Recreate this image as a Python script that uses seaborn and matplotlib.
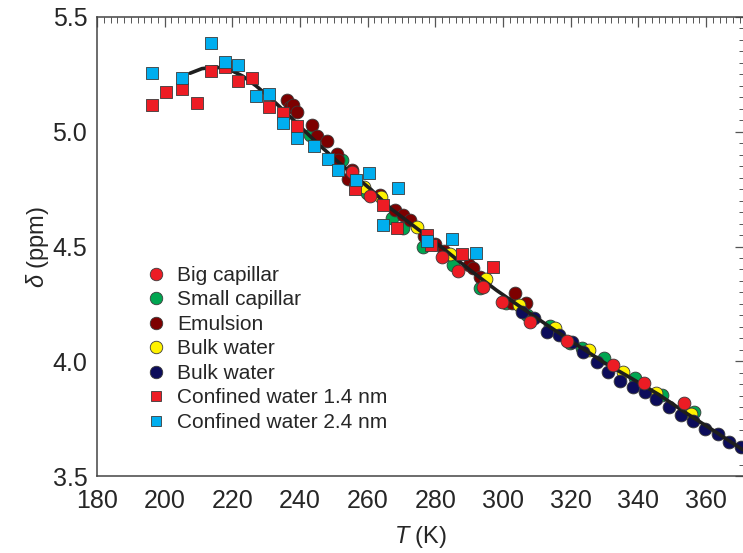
import numpy as np
import pandas as pd
import matplotlib
matplotlib.use("Agg")
import matplotlib.pyplot as plt
import seaborn as sns
from matplotlib.ticker import MultipleLocator

# ---------------- data ----------------
big_T = [255.3, 260.7, 281.9, 286.8, 294.2, 299.6, 308.0, 318.8, 332.5, 341.7, 353.4]
big_d = [4.826, 4.720, 4.453, 4.395, 4.325, 4.259, 4.172, 4.090, 3.984, 3.907, 3.817]

small_T = [243.0, 252.3, 259.7, 267.1, 270.5, 276.4, 285.3, 293.2, 300.9, 307.0, 313.9,
           319.8, 323.3, 329.7, 338.9, 347.1, 356.4]
small_d = [4.986, 4.877, 4.732, 4.623, 4.579, 4.499, 4.419, 4.318, 4.252, 4.202, 4.154,
           4.078, 4.056, 4.013, 3.926, 3.853, 3.780]

emul_T = [236.1, 237.0, 238.0, 239.0, 243.5, 244.9, 247.9, 250.9, 251.3, 254.1, 255.5,
          263.7, 268.1, 270.5, 272.5, 276.5, 279.9, 282.4, 289.8, 291.2, 293.2, 302.6,
          303.6, 306.8]
emul_d = [5.138, 5.109, 5.117, 5.087, 5.029, 4.981, 4.961, 4.903, 4.877, 4.793, 4.833,
          4.724, 4.659, 4.637, 4.615, 4.546, 4.511, 4.482, 4.419, 4.405, 4.368, 4.252,
          4.296, 4.252]

bulk1_T = [259.0, 263.9, 274.5, 284.3, 295.0, 304.8, 315.4, 325.5, 335.5, 345.1, 355.5]
bulk1_d = [4.761, 4.716, 4.586, 4.467, 4.357, 4.245, 4.144, 4.049, 3.952, 3.863, 3.770]

bulk2_T = [305.5, 309.0, 312.9, 316.4, 320.3, 323.7, 327.7, 331.1, 334.7, 338.4, 341.9,
           345.3, 349.0, 352.5, 356.0, 359.8, 363.4, 366.8, 370.3]
bulk2_d = [4.216, 4.187, 4.129, 4.114, 4.085, 4.042, 3.998, 3.954, 3.914, 3.889, 3.867,
           3.834, 3.802, 3.766, 3.740, 3.703, 3.683, 3.649, 3.625]

conf14_T = [196.3, 200.4, 205.0, 209.6, 213.6, 217.7, 221.8, 225.8, 230.9, 235.1, 239.0,
            256.3, 264.5, 268.6, 277.6, 278.6, 287.8, 297.1]
conf14_d = [5.117, 5.172, 5.188, 5.124, 5.266, 5.283, 5.221, 5.234, 5.109, 5.083, 5.024,
            4.749, 4.681, 4.579, 4.550, 4.507, 4.467, 4.409]

conf24_T = [196.3, 205.0, 213.6, 217.7, 221.8, 226.9, 230.9, 235.1, 239.0, 244.2, 248.2,
            251.3, 256.5, 260.5, 264.5, 269.1, 277.6, 284.8, 292.0]
conf24_d = [5.256, 5.233, 5.385, 5.303, 5.291, 5.154, 5.163, 5.037, 4.971, 4.938, 4.880,
            4.833, 4.790, 4.822, 4.594, 4.754, 4.525, 4.531, 4.473]

fit_T = [207.5, 211, 215, 219, 223, 227, 231, 235, 239, 243, 247, 251, 255, 261, 267,
         274, 282, 290, 298, 306, 314, 322, 330, 338, 346, 354, 362, 371]
fit_d = [5.255, 5.275, 5.282, 5.272, 5.243, 5.200, 5.150, 5.095, 5.038, 4.980, 4.925,
         4.872, 4.822, 4.748, 4.663, 4.585, 4.495, 4.400, 4.310, 4.228, 4.148, 4.070,
         3.993, 3.925, 3.855, 3.775, 3.700, 3.613]

labels = ["Big capillar", "Small capillar", "Emulsion", "Bulk water", "Bulk water",
          "Confined water 1.4 nm", "Confined water 2.4 nm"]
x_ticks = [180, 200, 220, 240, 260, 280, 300, 320, 340, 360]
y_ticks = [3.5, 4.0, 4.5, 5.0, 5.5]

# ---------------- styling ----------------
sns.set_theme(style="white")
plt.rcParams["font.family"] = ["Liberation Sans", "DejaVu Sans"]
plt.rcParams["mathtext.fontset"] = "custom"
plt.rcParams["mathtext.it"] = "Liberation Sans:italic"
plt.rcParams["mathtext.rm"] = "Liberation Sans"

fig = plt.figure(figsize=(7.43, 5.53), dpi=100)
ax = fig.add_axes([97 / 743, 77 / 553, 648 / 743, 459 / 553])

# fit curve
sns.lineplot(x=fit_T, y=fit_d, ax=ax, color="#1e1e1e", lw=2.6, sort=False,
             estimator=None, zorder=2, legend=False)

series = [
    (big_T, big_d, "o", "#ec1c24", labels[0], 4),
    (small_T, small_d, "o", "#00a651", labels[1], 3),
    (emul_T, emul_d, "o", "#7d0000", labels[2], 3),
    (bulk1_T, bulk1_d, "o", "#fff200", labels[3], 3),
    (bulk2_T, bulk2_d, "o", "#0c0c5a", labels[4], 3),
    (conf14_T, conf14_d, "s", "#ed1c24", labels[5], 4),
    (conf24_T, conf24_d, "s", "#00aeef", labels[6], 4),
]
handles = []
for T, d, m, c, lab, z in series:
    df = pd.DataFrame({"T": T, "d": d})
    s = 85 if m == "o" else 70
    sns.scatterplot(data=df, x="T", y="d", ax=ax, marker=m, color=c, s=s,
                    edgecolor="#3a3a3a", linewidth=0.6, zorder=z, legend=False)
    h = plt.Line2D([], [], marker=m, ls="none", markerfacecolor=c,
                   markeredgecolor="#3a3a3a", markeredgewidth=0.6,
                   markersize=9 if m == "o" else 7.5)
    handles.append(h)

# black fit line drawn on top of the circles, as in the reference
ax.lines[0].set_zorder(3.5)

ax.set_xlim(180, 371.5)
ax.set_ylim(3.5, 5.5)
ax.set_xticks(x_ticks)
ax.set_yticks(y_ticks)
ax.set_yticklabels([f"{v:.1f}" for v in y_ticks])
ax.xaxis.set_minor_locator(MultipleLocator(2))
ax.yaxis.set_minor_locator(MultipleLocator(0.05))
ax.tick_params(which="both", direction="in", top=True, right=True, color="#555555")
ax.tick_params(which="major", length=7, width=0.9, labelsize=18)
ax.tick_params(which="minor", length=4, width=0.7)
ax.tick_params(axis="x", which="major", pad=9)
ax.tick_params(axis="y", which="major", pad=7)
for sp in ax.spines.values():
    sp.set_color("#444444")
    sp.set_linewidth(1.1)

ax.set_xlabel(r"$T$ (K)", fontsize=17, labelpad=8)
ax.set_ylabel(r"$\delta$ (ppm)", fontsize=17, labelpad=1)

leg = ax.legend(handles, labels, loc="upper left", bbox_to_anchor=(0.066, 0.476),
                frameon=False, fontsize=15, handlelength=0.8, handletextpad=0.6,
                labelspacing=0.265, borderaxespad=0)

fig.savefig("out.png", dpi=100)
